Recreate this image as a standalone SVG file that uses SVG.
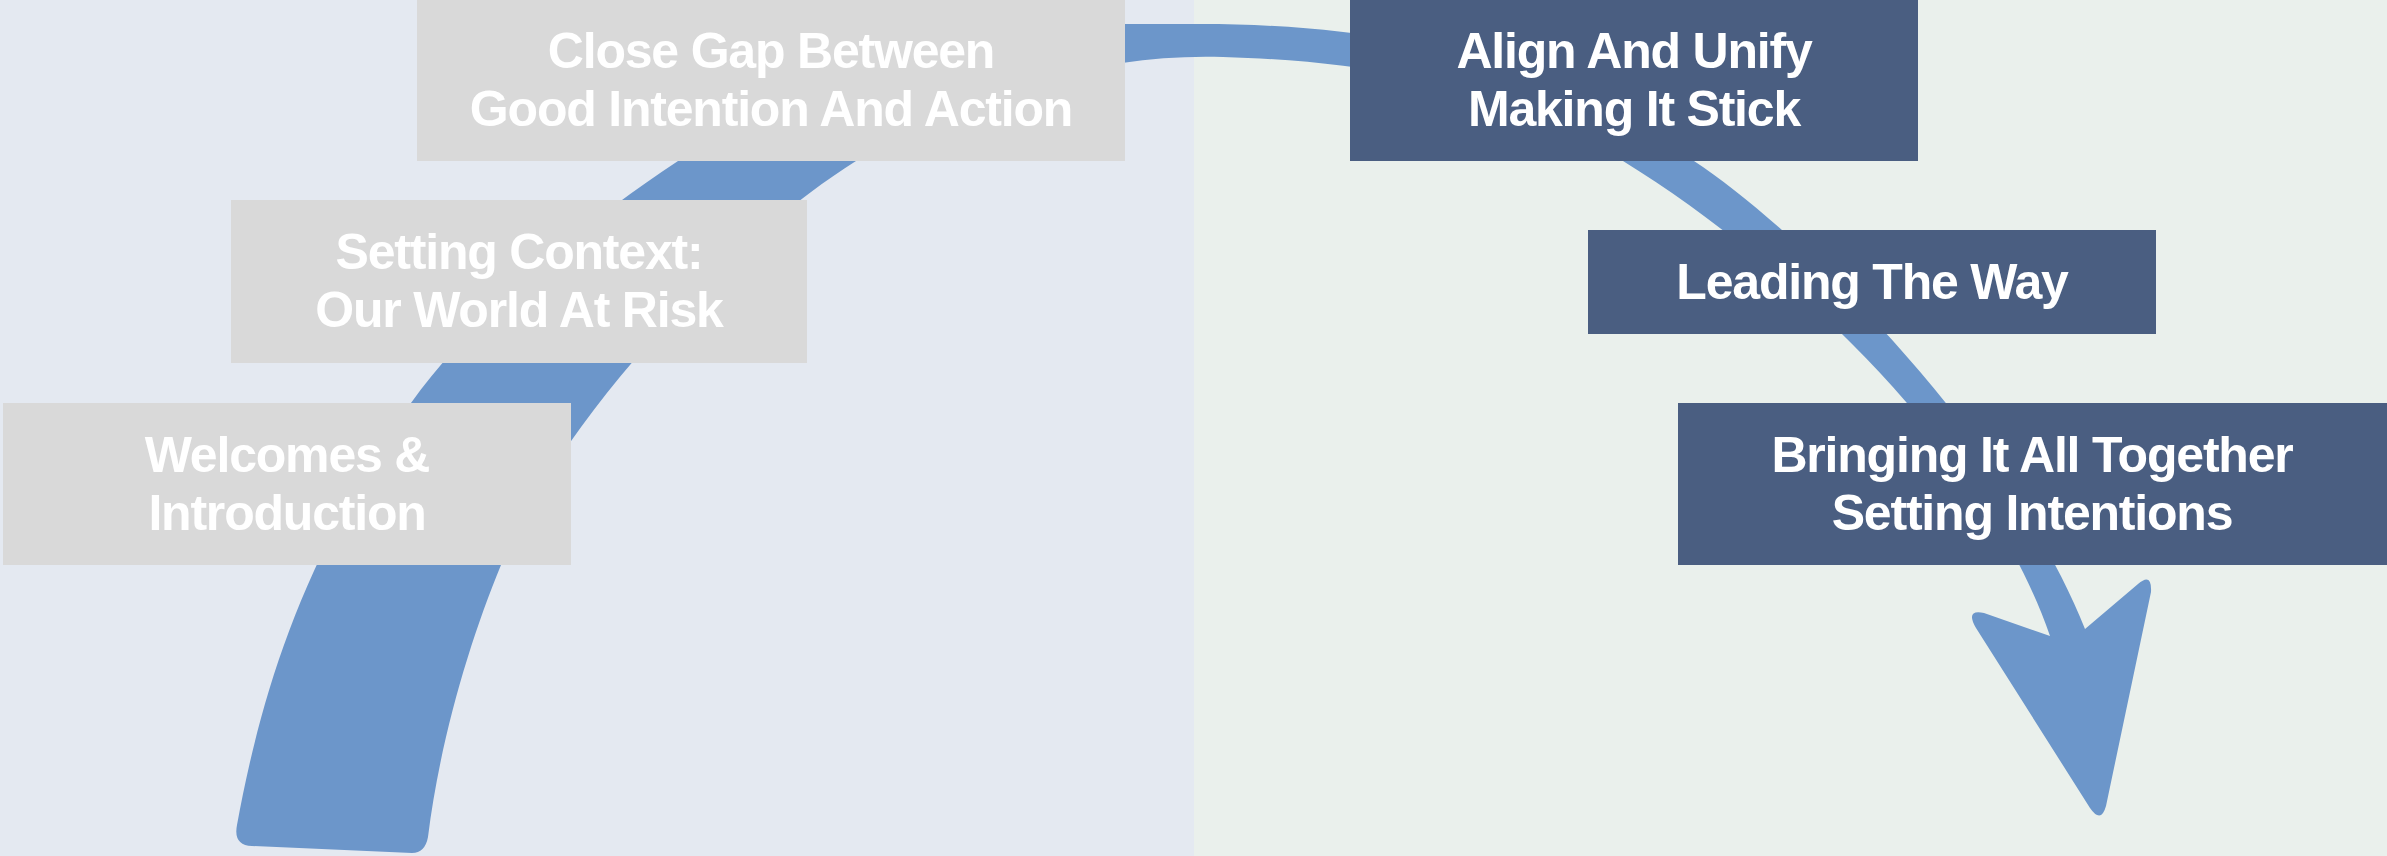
<svg xmlns="http://www.w3.org/2000/svg" width="2387" height="856" viewBox="0 0 2387 856">
<style>
.light{fill:#D9D9D9}
.dark{fill:#4A5E81}
.lbl{font-family:"Liberation Sans",Arial,Helvetica,sans-serif;font-weight:bold;font-size:50px;letter-spacing:-1.2px;fill:#FFFFFF;text-anchor:middle}
.flow{fill:#6C96CA}
</style>
<rect x="0" y="0" width="1194" height="856" fill="#E4E9F1"/>
<rect x="1194" y="0" width="1193" height="856" fill="#EAF0EC"/>
<g id="connectors">
<path class="flow" d="M 237,825 C 260,700 300,560 411,403 C 470,320 580,225 678,161 C 800,80 980,30 1125,24 L 1200,24 C 1420,24 1580,75 1694,161 C 1800,230 2010,440 2085,629 L 2138,584 Q 2152,572 2151,592 L 2106,806 Q 2101,824 2090,808 L 1976,628 Q 1965,609 1984,613 L 2050,636 C 1990,460 1800,270 1623,161 C 1520,95 1400,62 1223,57 C 1160,55 1100,64 1040,80 C 960,102 900,130 856,161 C 730,240 560,420 501,565 C 470,640 440,740 428,837 Q 425,853 412,853 L 252,846 Q 233,845 237,825 Z"/>
</g>
<g id="node-welcomes">
<rect class="light" x="3" y="403" width="568" height="162"/>
<text class="lbl" x="287" y="472">Welcomes &amp;</text>
<text class="lbl" x="287" y="530">Introduction</text>
</g>
<g id="node-context">
<rect class="light" x="231" y="200" width="576" height="163"/>
<text class="lbl" x="519" y="269">Setting Context:</text>
<text class="lbl" x="519" y="327">Our World At Risk</text>
</g>
<g id="node-gap">
<rect class="light" x="417" y="0" width="708" height="161"/>
<text class="lbl" x="771" y="68">Close Gap Between</text>
<text class="lbl" x="771" y="126">Good Intention And Action</text>
</g>
<g id="node-align">
<rect class="dark" x="1350" y="0" width="568" height="161"/>
<text class="lbl" x="1634" y="68">Align And Unify</text>
<text class="lbl" x="1634" y="126">Making It Stick</text>
</g>
<g id="node-leading">
<rect class="dark" x="1588" y="230" width="568" height="104"/>
<text class="lbl" x="1872" y="299">Leading The Way</text>
</g>
<g id="node-bringing">
<rect class="dark" x="1678" y="403" width="709" height="162"/>
<text class="lbl" x="2032" y="472">Bringing It All Together</text>
<text class="lbl" x="2032" y="530">Setting Intentions</text>
</g>
</svg>
